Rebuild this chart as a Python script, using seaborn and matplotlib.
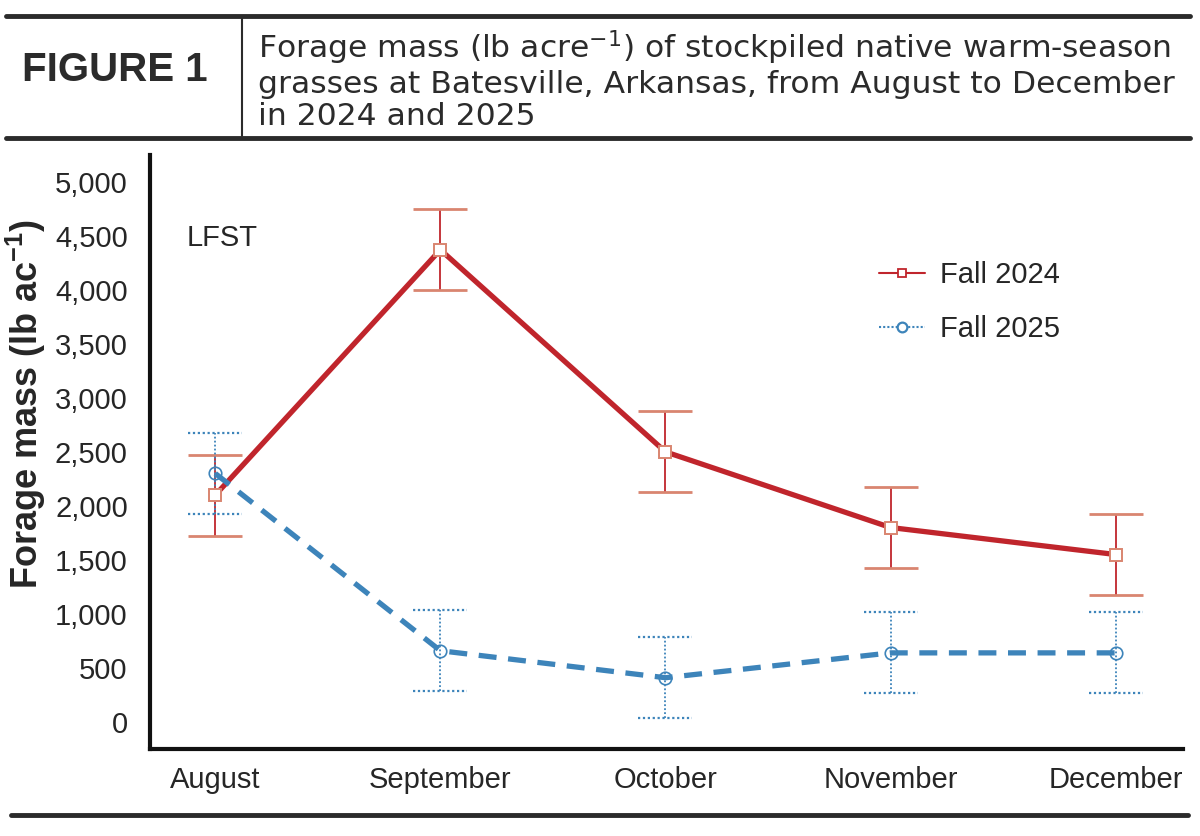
import seaborn as sns
import matplotlib.pyplot as plt
import numpy as np
import pandas as pd
from matplotlib.lines import Line2D

# data
months = ['August', 'September', 'October', 'November', 'December']
fall_2024 = [2100, 4370, 2500, 1800, 1550]
fall_2025 = [2300, 660, 410, 640, 640]
err_2024 = [375, 375, 375, 375, 375]
err_2025 = [375, 375, 375, 375, 375]
yticks = [0, 500, 1000, 1500, 2000, 2500, 3000, 3500, 4000, 4500, 5000]

sns.set_style('white')
plt.rcParams['font.family'] = ['Liberation Sans', 'DejaVu Sans']
plt.rcParams['mathtext.fontset'] = 'custom'
plt.rcParams['mathtext.rm'] = 'Liberation Sans'
plt.rcParams['mathtext.bf'] = 'Liberation Sans:bold'

red = '#C0252C'
red_err = '#D98570'
blue = '#3D84BA'

pos = np.arange(len(months))
df = pd.DataFrame({
    'month': list(pos) * 2,
    'mass': fall_2024 + fall_2025,
    'season': ['Fall 2024'] * 5 + ['Fall 2025'] * 5,
})

fig = plt.figure(figsize=(12, 8.36), dpi=100)
ax = fig.add_axes([0.125, 0.104, 0.861, 0.711])

sns.lineplot(data=df, x='month', y='mass', hue='season', style='season',
             palette={'Fall 2024': red, 'Fall 2025': blue},
             dashes={'Fall 2024': '', 'Fall 2025': (3.4, 2.2)},
             linewidth=3.8, legend=False, ax=ax, zorder=3)

# error bars drawn by hand so the 2025 caps can be dotted
cw = 0.12
lo24 = np.array(fall_2024) - np.array(err_2024)
hi24 = np.array(fall_2024) + np.array(err_2024)
lo25 = np.array(fall_2025) - np.array(err_2025)
hi25 = np.array(fall_2025) + np.array(err_2025)
ax.vlines(pos, lo24, hi24, color=red, lw=1.3, zorder=2)
ax.hlines(np.r_[lo24, hi24], np.r_[pos, pos] - cw, np.r_[pos, pos] + cw,
          color=red_err, lw=2, zorder=2)
ax.vlines(pos, lo25, hi25, color=blue, lw=1.3, linestyles=(0, (1, 1.2)), zorder=2)
ax.hlines(np.r_[lo25, hi25], np.r_[pos, pos] - cw, np.r_[pos, pos] + cw,
          color=blue, lw=1.6, linestyles=(0, (1, 1.2)), zorder=2)

ax.plot(pos, fall_2024, ls='none', marker='s', mfc='white', mec=red_err, ms=8, mew=1.4, zorder=4)
ax.plot(pos, fall_2025, ls='none', marker='o', mfc='none', mec=blue, ms=9, mew=1.2, zorder=4)

ax.set_xlim(-0.29, 4.3)
ax.set_ylim(-250, 5250)
ax.set_xticks(pos)
ax.set_xticklabels(months, fontsize=21)
ax.set_yticks(yticks)
ax.set_yticklabels([f'{v:,}' for v in yticks], fontsize=21)
ax.tick_params(axis='both', length=0, pad=12)
ax.tick_params(axis='y', pad=16)
ax.set_xlabel('')
ax.set_ylabel(r'Forage mass (lb ac$^{\mathbf{-1}}$)', fontsize=26, fontweight='bold')
ax.yaxis.set_label_coords(-0.099, 0.58)
for s in ['top', 'right']:
    ax.spines[s].set_visible(False)
for s in ['left', 'bottom']:
    ax.spines[s].set_color('#111111')
    ax.spines[s].set_linewidth(3)

ax.text(0.035, 0.86, 'LFST', transform=ax.transAxes, fontsize=21, va='center')

handles = [
    Line2D([], [], color=red, lw=1.5, marker='s', mfc='white', mec=red, ms=6, mew=1.3),
    Line2D([], [], color=blue, lw=1.5, ls=(0, (1, 1)), marker='o', mfc='white', mec=blue, ms=7, mew=1.6),
]
ax.legend(handles, ['Fall 2024', 'Fall 2025'], loc='upper left', bbox_to_anchor=(0.68, 0.865),
          frameon=False, fontsize=21, handlelength=1.6, labelspacing=0.9, handletextpad=0.5)

# header box
dark = '#2b2b2b'
fig.add_artist(Line2D([0.005, 0.992], [1 - 16 / 836] * 2, color=dark, lw=3.5))
fig.add_artist(Line2D([0.005, 0.992], [1 - 138 / 836] * 2, color=dark, lw=3.5))
fig.add_artist(Line2D([242 / 1200] * 2, [1 - 18 / 836, 1 - 136 / 836], color=dark, lw=1.5))
fig.add_artist(Line2D([0.009, 0.99], [1 - 815 / 836] * 2, color=dark, lw=3.5))

fig.text(0.096, 1 - 70 / 836, 'FIGURE 1', fontsize=29, fontweight='bold', color=dark,
         ha='center', va='center')
fig.text(258 / 1200, 1 - 80 / 836,
         'Forage mass (lb acre$^{-1}$) of stockpiled native warm-season\n'
         'grasses at Batesville, Arkansas, from August to December\n'
         'in 2024 and 2025',
         fontsize=22.6, color=dark, ha='left', va='center', linespacing=1.12,
         family=['DejaVu Sans'], math_fontfamily='dejavusans')

fig.savefig('out.png', dpi=100)
